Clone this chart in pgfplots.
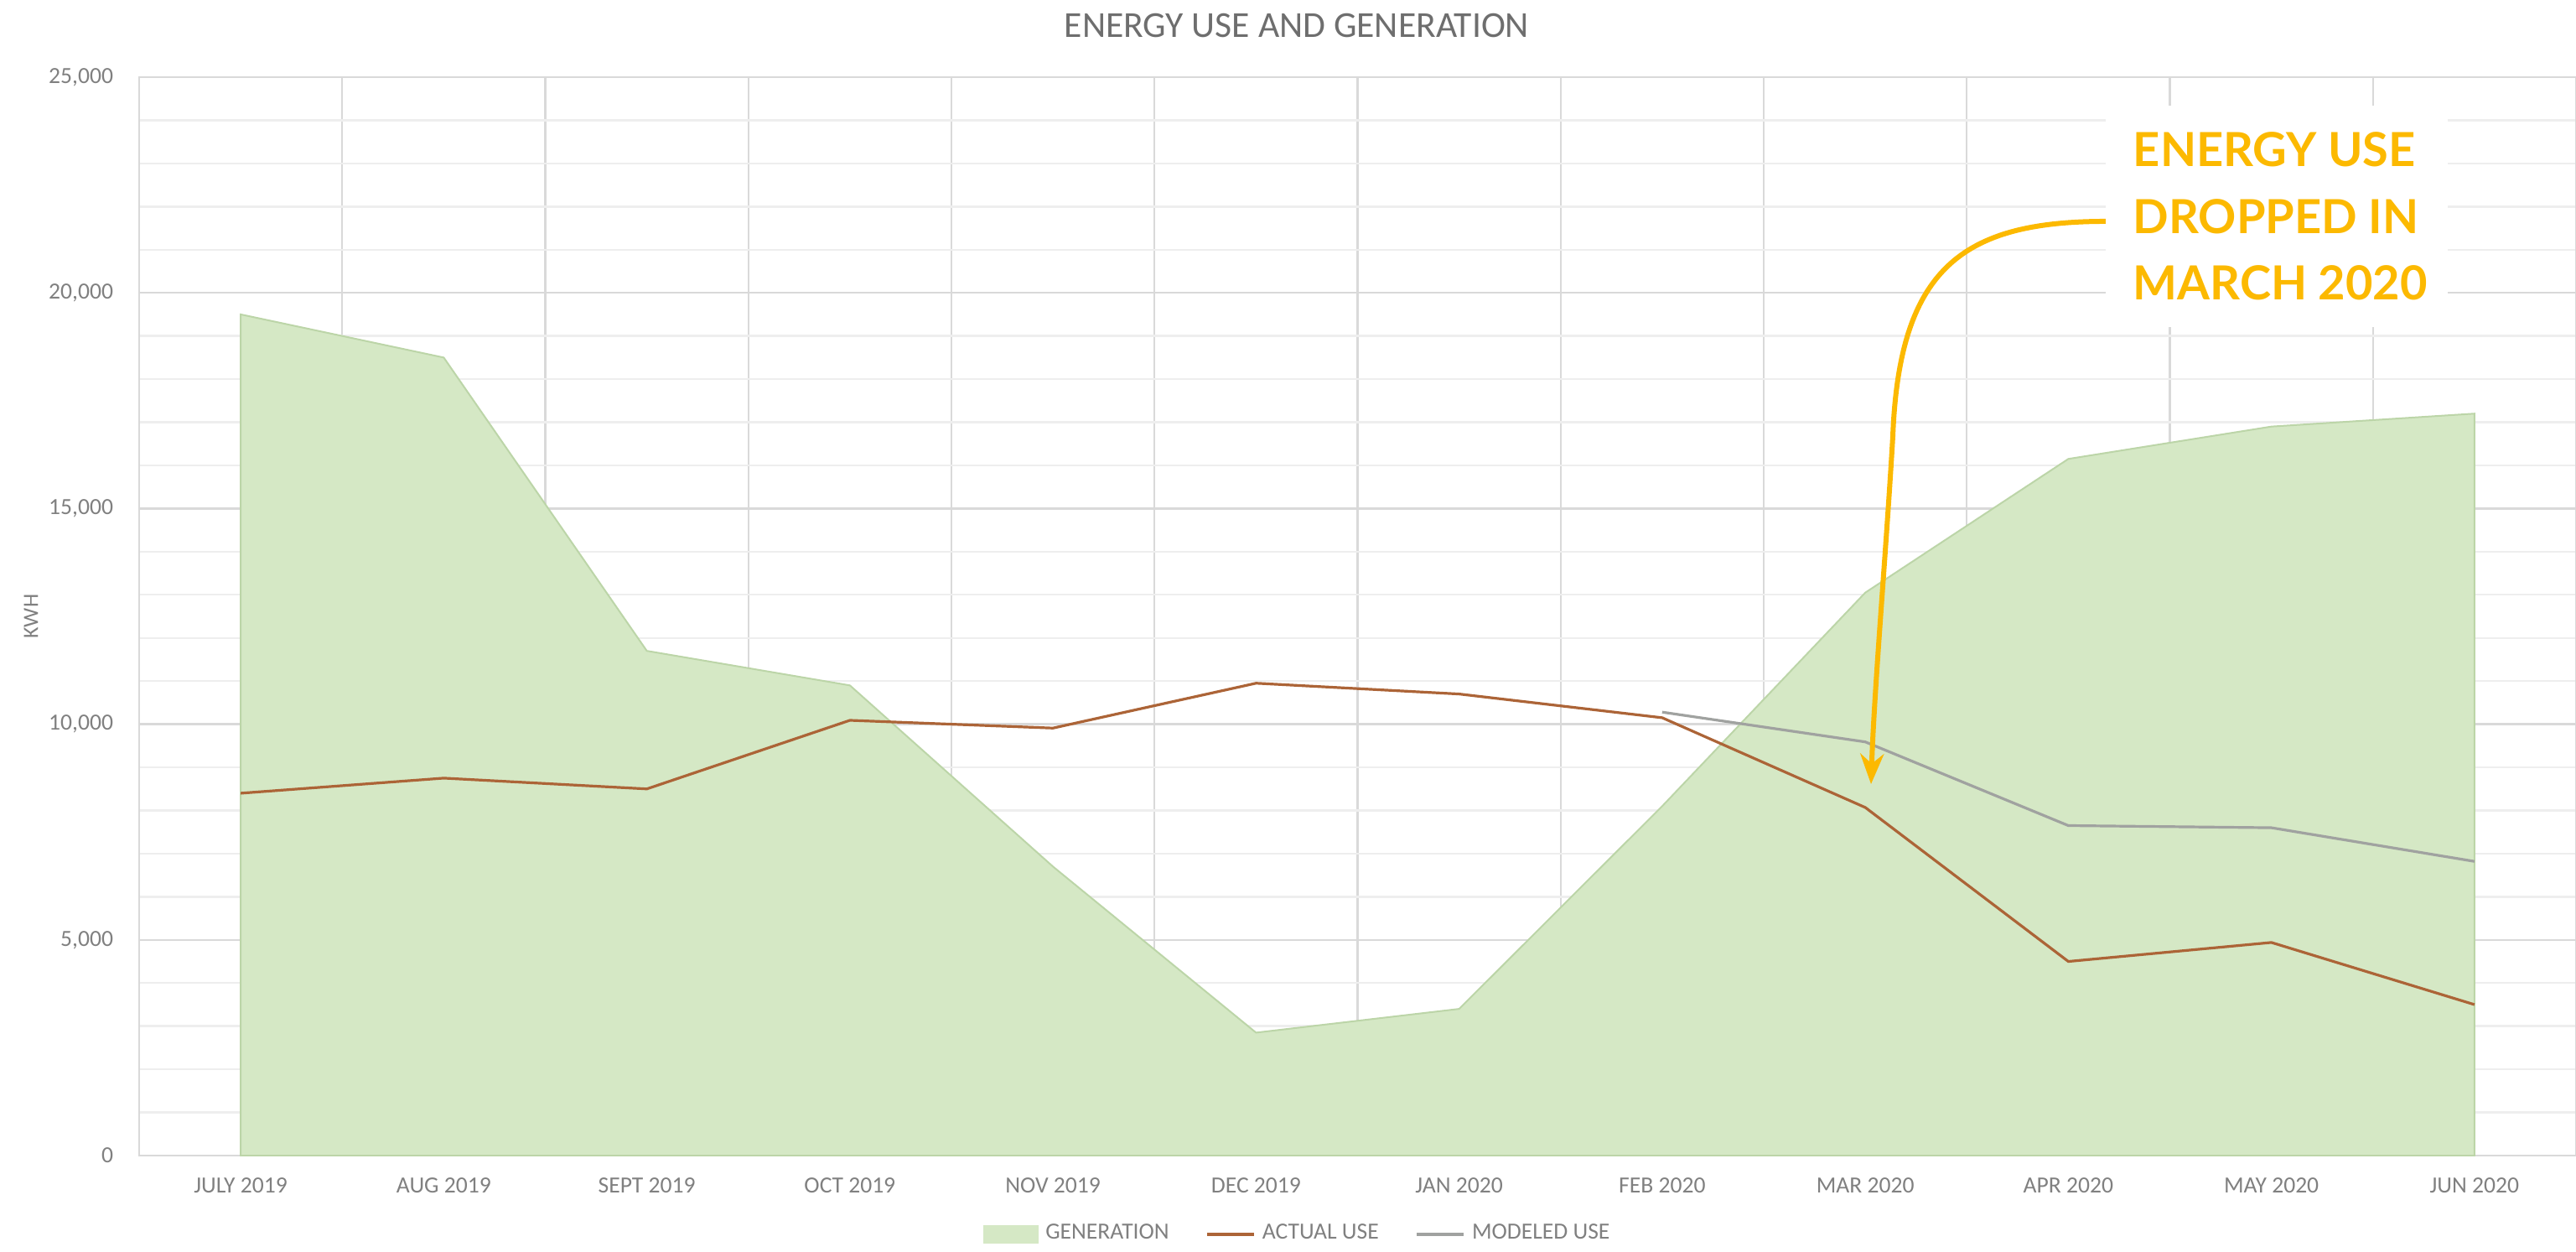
\documentclass[border=0pt]{standalone}
\usepackage{fontspec}
\setmainfont{Carlito}
\newfontfamily\annfont{Lato}
\usepackage{pgfplots}
\usepackage{pgfplotstable}
\pgfplotsset{compat=1.18}
\usetikzlibrary{arrows.meta}
\definecolor{genfill}{RGB}{213,232,197}
\definecolor{genedge}{RGB}{188,213,168}
\definecolor{actual}{RGB}{172,100,55}
\definecolor{modeled}{RGB}{160,162,160}
\definecolor{gridmajor}{RGB}{217,217,217}
\definecolor{gridminor}{RGB}{238,238,238}
\definecolor{tickgray}{RGB}{128,128,128}
\definecolor{titlegray}{RGB}{110,110,110}
\definecolor{anno}{RGB}{252,185,0}

\pgfplotstableread{
x gen act
0 19500 8400
1 18500 8750
2 11700 8500
3 10900 10090
4 6700 9910
5 2850 10950
6 3400 10700
7 8100 10150
8 13050 8070
9 16150 4500
10 16900 4940
11 17200 3500
}\maindata
\pgfplotstableread{
x mod
7 10280
8 9590
9 7650
10 7600
11 6820
}\moddata

\begin{document}
\begin{tikzpicture}
\begin{axis}[
  scale only axis, width=726.75pt, height=321.5pt,
  xmin=-0.5, xmax=11.5, ymin=0, ymax=25000,
  xtick={0,...,11},
  xticklabels={JULY 2019, AUG 2019, SEPT 2019, OCT 2019, NOV 2019, DEC 2019, JAN 2020, FEB 2020, MAR 2020, APR 2020, MAY 2020, JUN 2020},
  minor xtick={0.5,1.5,...,10.5},
  ytick={0,5000,...,25000},
  minor y tick num=4,
  major tick length=0pt, minor tick length=0pt,
  xmajorgrids=false, xminorgrids=true, ymajorgrids=true, yminorgrids=true,
  minor x grid style={gridmajor, line width=0.6pt},
  major y grid style={gridmajor, line width=0.6pt},
  minor y grid style={gridminor, line width=0.6pt},
  axis line style={gridmajor, line width=0.6pt},
  scaled y ticks=false,
  /pgf/number format/1000 sep={,},
  /pgf/number format/assume math mode=true,
  tick label style={font=\fontsize{6.9}{8}\selectfont, text=tickgray},
  yticklabel style={xshift=-4.2pt},
  xticklabel style={yshift=-3.2pt},
  ylabel={KWH},
  ylabel style={at={(axis description cs:-0.0444,0.5)}, anchor=center, font=\fontsize{6.5}{8}\selectfont, text=tickgray},
  legend style={at={(0.4764,-0.0731)}, anchor=center, draw=none, fill=none,
    font=\fontsize{6.9}{8}\selectfont, text=tickgray, legend columns=3,
    /tikz/every even column/.append style={column sep=9pt}, inner sep=0pt},
  legend cell align=left,
]
\addplot[fill=genfill, draw=genedge, line width=0.5pt,
  legend image code/.code={\fill[genfill] (0pt,-2.6pt) rectangle (16pt,2.6pt);}]
  table[x=x,y=gen]{\maindata} \closedcycle;
\addlegendentry{GENERATION}
\addplot[actual, line width=0.8pt,
  legend image code/.code={\draw[actual, line width=0.8pt] (0pt,0pt) -- (14pt,0pt);}]
  table[x=x,y=act]{\maindata};
\addlegendentry{ACTUAL USE}
\addplot[modeled, line width=0.8pt,
  legend image code/.code={\draw[modeled, line width=0.8pt] (0pt,0pt) -- (14pt,0pt);}]
  table[x=x,y=mod]{\moddata};
\addlegendentry{MODELED USE}
\end{axis}

\node[font=\fontsize{10.9}{12}\selectfont, text=titlegray] at (345.25pt,336.75pt) {ENERGY USE AND GENERATION};

\draw[anno, line width=1.5pt, -{Stealth[length=9pt,width=7pt]}]
  (589.25pt,278.5pt) .. controls (545pt,279pt) and (525pt,266pt) ..
  (523pt,214.5pt) .. controls (521pt,180pt) and (517.5pt,140pt) .. (516.5pt,110.75pt);

\fill[white] (586.5pt,247pt) rectangle (688.5pt,313pt);
\node[anchor=base west, inner sep=0pt, font=\annfont\bfseries\fontsize{14}{16}\selectfont, text=anno] at (594.5pt,294.75pt) {ENERGY USE};
\node[anchor=base west, inner sep=0pt, font=\annfont\bfseries\fontsize{14}{16}\selectfont, text=anno] at (594.5pt,275pt) {DROPPED IN};
\node[anchor=base west, inner sep=0pt, font=\annfont\bfseries\fontsize{14}{16}\selectfont, text=anno] at (594.5pt,255.25pt) {MARCH 2020};

\pgfresetboundingbox
\path[use as bounding box] (-41.5pt,-28.5pt) rectangle (726.75pt,344.5pt);
\end{tikzpicture}
\end{document}
